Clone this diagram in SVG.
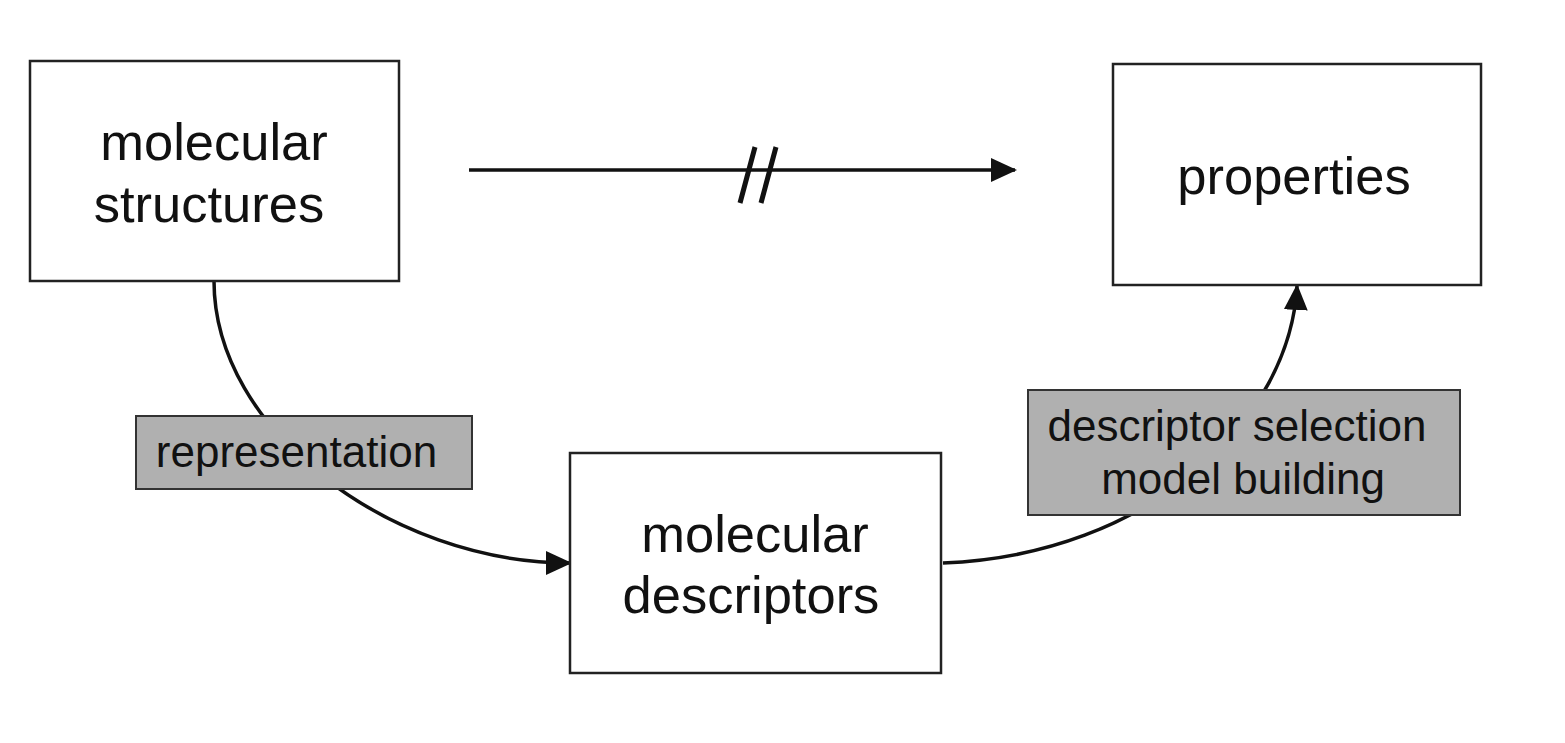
<svg xmlns="http://www.w3.org/2000/svg" width="1565" height="743" viewBox="0 0 1565 743">
<style>
.box{fill:#fff;stroke:#222;stroke-width:2.5}
.lbl{fill:#b0b0b0;stroke:#333;stroke-width:2}
.t{font-family:"Liberation Sans",Arial,sans-serif;fill:#111;text-anchor:middle}
.big{font-size:52.5px}
.small{font-size:44px}
.con{fill:none;stroke:#111;stroke-width:3.5}
.slash{fill:none;stroke:#111;stroke-width:5}
</style>
<defs>
<marker id="ah" markerUnits="userSpaceOnUse" markerWidth="26" markerHeight="24" refX="24" refY="12" orient="auto">
<path d="M0,0 L26,12 L0,24 Z" fill="#111"/>
</marker>
</defs>
<rect width="1565" height="743" fill="#fff"/>
<g id="connectors">
<path class="con" d="M469,170 L1015,170" marker-end="url(#ah)"/>
<path class="slash" d="M755,147 L740,203 M776,147 L761,203"/>
<path class="con" d="M214,281 C214,430 390,563 570,563" marker-end="url(#ah)"/>
<path class="con" d="M943,563 C1150,555 1290,420 1297,286" marker-end="url(#ah)"/>
</g>
<g id="molecular-structures">
<rect class="box" x="30" y="61" width="369" height="220"/>
<text class="t big" x="214" y="160">molecular</text>
<text class="t big" x="209" y="222">structures</text>
</g>
<g id="properties">
<rect class="box" x="1113" y="64" width="368" height="221"/>
<text class="t big" x="1294" y="194">properties</text>
</g>
<g id="molecular-descriptors">
<rect class="box" x="570" y="453" width="371" height="220"/>
<text class="t big" x="755" y="552">molecular</text>
<text class="t big" x="751" y="613">descriptors</text>
</g>
<g id="representation">
<rect class="lbl" x="136" y="416" width="336" height="73"/>
<text class="t small" x="296.5" y="467">representation</text>
</g>
<g id="descriptor-selection">
<rect class="lbl" x="1028" y="390" width="432" height="125"/>
<text class="t small" x="1237" y="441">descriptor selection</text>
<text class="t small" x="1243" y="494">model building</text>
</g>
</svg>
